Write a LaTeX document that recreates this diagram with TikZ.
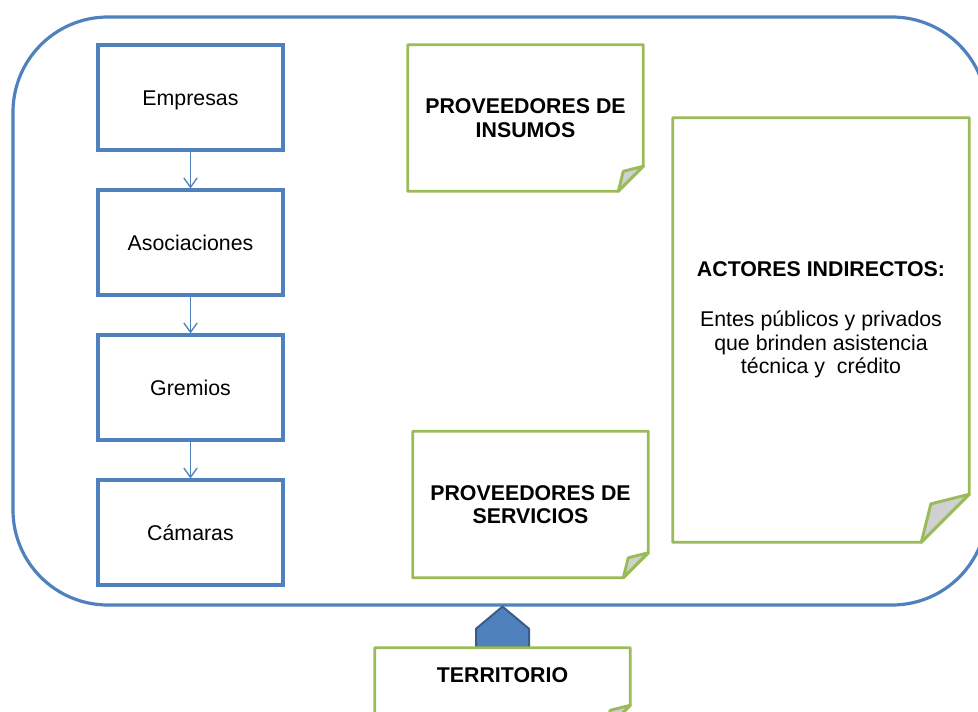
\documentclass[tikz,border=0pt]{standalone}
\usepackage{fontspec}
\setmainfont{Liberation Sans}
\usetikzlibrary{arrows.meta,calc}
\definecolor{boxblue}{HTML}{4F81BD}
\definecolor{darkblue}{HTML}{385D8A}
\definecolor{notegreen}{HTML}{9BBB59}
\definecolor{foldgray}{HTML}{D0D0D0}
\newcommand{\foldnote}[2]{%
  \draw[noteline] (#1.north west) -- (#1.north east) -- ($(#1.south east)+(0,-#2)$) -- ($(#1.south east)+(-#2,0)$) -- (#1.south west) -- cycle;
  \draw[noteline,fill=foldgray] ($(#1.south east)+(0,-#2)$) -- ($(#1.south east)+(-0.8*#2,-0.8*#2)$) -- ($(#1.south east)+(-#2,0)$) -- cycle;}
\begin{document}
\begin{tikzpicture}[x=0.75pt,y=-0.75pt,
    every node/.style={font=\fontsize{16}{17.5}\selectfont},
    actorbox/.style={draw=boxblue,line width=2.4pt,minimum width=138.75pt,minimum height=78.75pt,inner sep=0pt,text height=11.5pt,text depth=0pt},
    note/.style={minimum width=176.25pt,minimum height=109.5pt,inner sep=0pt,align=center,font=\fontsize{16}{17.5}\selectfont\bfseries},
    noteline/.style={draw=notegreen,line width=2.2pt,line join=round},
    flow/.style={draw=boxblue,line width=1pt,-{Straight Barb[length=7pt,width=10pt]}}]
  \useasboundingbox (0,0) rectangle (978,711);
  \clip (0,0) rectangle (978,711);
  \node[draw=boxblue,line width=2.4pt,rounded corners=71.25pt,minimum width=730.5pt,minimum height=441pt,inner sep=0pt] (frame) at (500,311) {};
  \node[actorbox] (empresas) at (190.5,97.5) {Empresas};
  \node[actorbox] (asociaciones) at (190.5,242.5) {Asociaciones};
  \node[actorbox] (gremios) at (190.5,387.5) {Gremios};
  \node[actorbox] (camaras) at (190.5,532.5) {Cámaras};
  \draw[flow] (empresas) -- (asociaciones);
  \draw[flow] (asociaciones) -- (gremios);
  \draw[flow] (gremios) -- (camaras);
  \node[note] (insumos) at (525.5,118) {PROVEEDORES DE\\INSUMOS};
  \foldnote{insumos}{25}
  \node[note] (servicios) at (530.5,504.5) {PROVEEDORES DE\\SERVICIOS};
  \foldnote{servicios}{25}
  \node[note,minimum width=222pt,minimum height=318pt] (actores) at (821,330) {};
  \foldnote{actores}{48}
  \node[align=center] (actorestxt) at (821,319.5) {\textbf{ACTORES INDIRECTOS:}\\[20.5pt]Entes públicos y privados\\que brinden asistencia\\técnica y\ \ crédito};
  \node[note,minimum width=191.25pt,minimum height=61.5pt] (territorio) at (502.5,689) {};
  \filldraw[fill=boxblue,draw=darkblue,line width=1.5pt,line join=round] ($(territorio.north)+(-26.5,0)$) -- ++(0,-19) -- (territorio.north |- frame.south) -- ($(territorio.north)+(26.5,-19)$) -- ($(territorio.north)+(26.5,0)$) -- cycle;
  \foldnote{territorio}{25}
  \node[font=\fontsize{16}{17.5}\selectfont\bfseries] (territoriotxt) at (502.5,675) {TERRITORIO};
\end{tikzpicture}
\end{document}
